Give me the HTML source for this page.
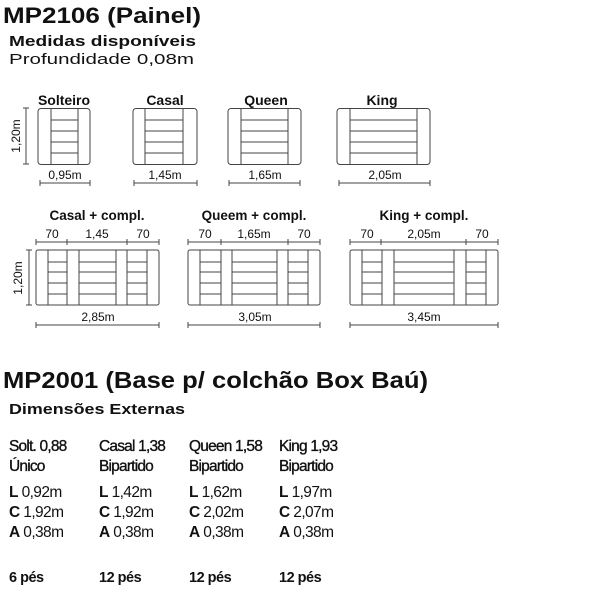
<!DOCTYPE html>
<html><head><meta charset="utf-8"><style>
html,body{margin:0;padding:0;background:#fff;}
svg{display:block;}
text{font-family:"Liberation Sans",sans-serif;fill:#111;}
.b{font-weight:bold;}
.s{font-size:12px;fill:#333;}
</style></head><body>
<svg width="600" height="600" viewBox="0 0 600 600" xmlns="http://www.w3.org/2000/svg">
<text x="3" y="23" class="b" font-size="22" textLength="198" lengthAdjust="spacingAndGlyphs">MP2106 (Painel)</text>
<text x="9" y="46" class="b" font-size="15" textLength="187" lengthAdjust="spacingAndGlyphs">Medidas disponíveis</text>
<text x="9" y="64" font-size="15" textLength="185" lengthAdjust="spacingAndGlyphs">Profundidade 0,08m</text>

<g fill="none" stroke="#444" stroke-width="1">
<rect x="38" y="108.5" width="52" height="56" rx="3"/>
<path d="M51 109V164M78 109V164M51 120H78M51 131H78M51 142H78M51 153H78"/>
<rect x="133" y="108.5" width="64" height="56" rx="3"/>
<path d="M145 109V164M183 109V164M145 120H183M145 131H183M145 142H183M145 153H183"/>
<rect x="228" y="108.5" width="73" height="56" rx="3"/>
<path d="M241 109V164M288 109V164M241 120H288M241 131H288M241 142H288M241 153H288"/>
<rect x="337" y="108.5" width="93" height="56" rx="3"/>
<path d="M350 109V164M417 109V164M350 120H417M350 131H417M350 142H417M350 153H417"/>
<path d="M26 108V164M23 108H29M23 164H29"/>
<path d="M40 183H90M40 180V186M90 180V186"/>
<path d="M134 183H197M134 180V186M197 180V186"/>
<path d="M229 183H300M229 180V186M300 180V186"/>
<path d="M339 183H430M339 180V186M430 180V186"/>
<rect x="36" y="250" width="123" height="55" rx="2"/>
<path d="M48 250V305M67 250V305M79 250V305M116 250V305M127 250V305M147 250V305M48 262H67M48 272H67M48 283H67M48 294H67M79 262H116M79 272H116M79 283H116M79 294H116M127 262H147M127 272H147M127 283H147M127 294H147"/>
<rect x="188" y="250" width="132" height="55" rx="2"/>
<path d="M200 250V305M221 250V305M232 250V305M277 250V305M288 250V305M308 250V305M200 262H221M200 272H221M200 283H221M200 294H221M232 262H277M232 272H277M232 283H277M232 294H277M288 262H308M288 272H308M288 283H308M288 294H308"/>
<rect x="350" y="250" width="148" height="55" rx="2"/>
<path d="M362 250V305M382 250V305M394 250V305M454 250V305M466 250V305M486 250V305M362 262H382M362 272H382M362 283H382M362 294H382M394 262H454M394 272H454M394 283H454M394 294H454M466 262H486M466 272H486M466 283H486M466 294H486"/>
<path d="M29 250V305M26 250H32M26 305H32"/>
<path d="M36 242H159M36 239V245M67 239V245M127 239V245M159 239V245"/>
<path d="M188 242H320M188 239V245M221 239V245M288 239V245M320 239V245"/>
<path d="M350 242H498M350 239V245M381 239V245M466 239V245M498 239V245"/>
<path d="M36 325H159M36 322V328M159 322V328"/>
<path d="M188 325H320M188 322V328M320 322V328"/>
<path d="M350 325H498M350 322V328M498 322V328"/>
</g>

<g class="b" font-size="14" text-anchor="middle">
<text x="64" y="105">Solteiro</text>
<text x="165" y="105">Casal</text>
<text x="266" y="105">Queen</text>
<text x="382" y="105">King</text>
<text x="97" y="220" font-size="13.5">Casal + compl.</text>
<text x="254" y="220" font-size="13.5">Queem + compl.</text>
<text x="424" y="220" font-size="13.5">King + compl.</text>
</g>
<g class="s" text-anchor="middle">
<text x="65" y="179">0,95m</text>
<text x="165" y="179">1,45m</text>
<text x="265" y="179">1,65m</text>
<text x="385" y="179">2,05m</text>
<text x="20" y="136" transform="rotate(-90 20 136)">1,20m</text>
<text x="22" y="278" transform="rotate(-90 22 278)">1,20m</text>
<text x="52" y="238">70</text><text x="97" y="238">1,45</text><text x="143" y="238">70</text>
<text x="205" y="238">70</text><text x="254" y="238">1,65m</text><text x="304" y="238">70</text>
<text x="367" y="238">70</text><text x="424" y="238">2,05m</text><text x="482" y="238">70</text>
<text x="98" y="321">2,85m</text>
<text x="255" y="321">3,05m</text>
<text x="424" y="321">3,45m</text>
</g>

<text x="3" y="388" class="b" font-size="23" textLength="425" lengthAdjust="spacingAndGlyphs">MP2001 (Base p/ colchão Box Baú)</text>
<text x="9" y="414" class="b" font-size="15" textLength="176" lengthAdjust="spacingAndGlyphs">Dimensões Externas</text>

<g font-size="15.5" letter-spacing="-0.8" stroke="#111" stroke-width="0.35">
<text x="9" y="451">Solt. 0,88</text><text x="9" y="471">Único</text>
<text x="99" y="451">Casal 1,38</text><text x="99" y="471">Bipartido</text>
<text x="189" y="451">Queen 1,58</text><text x="189" y="471">Bipartido</text>
<text x="279" y="451">King 1,93</text><text x="279" y="471">Bipartido</text>
</g>
<g font-size="15.5" letter-spacing="-0.6">
<text x="9" y="497"><tspan class="b">L</tspan>  0,92m</text>
<text x="9" y="517"><tspan class="b">C</tspan> 1,92m</text>
<text x="9" y="537"><tspan class="b">A</tspan> 0,38m</text>
<text x="99" y="497"><tspan class="b">L</tspan>  1,42m</text>
<text x="99" y="517"><tspan class="b">C</tspan> 1,92m</text>
<text x="99" y="537"><tspan class="b">A</tspan> 0,38m</text>
<text x="189" y="497"><tspan class="b">L</tspan>  1,62m</text>
<text x="189" y="517"><tspan class="b">C</tspan> 2,02m</text>
<text x="189" y="537"><tspan class="b">A</tspan> 0,38m</text>
<text x="279" y="497"><tspan class="b">L</tspan>  1,97m</text>
<text x="279" y="517"><tspan class="b">C</tspan> 2,07m</text>
<text x="279" y="537"><tspan class="b">A</tspan> 0,38m</text>
</g>
<g font-size="14.5" class="b" letter-spacing="-0.5">
<text x="9" y="582">6 pés</text>
<text x="99" y="582">12 pés</text>
<text x="189" y="582">12 pés</text>
<text x="279" y="582">12 pés</text>
</g>
</svg>
</body></html>
